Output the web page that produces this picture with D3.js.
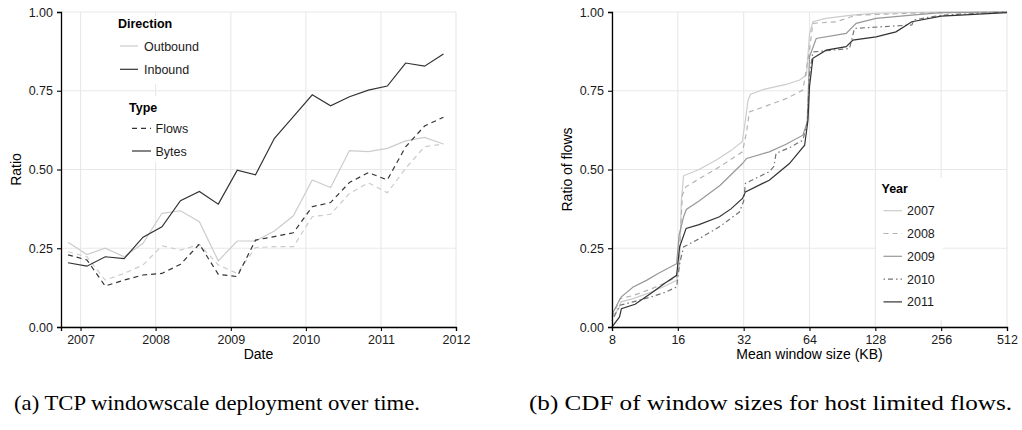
<!DOCTYPE html>
<html>
<head>
<meta charset="utf-8">
<script src="https://cdn.jsdelivr.net/npm/d3@7"></script>
<style>
  html, body { margin: 0; padding: 0; background: #fff; }
  svg { display: block; }
  text { font-family: "Liberation Sans", Arial, Helvetica, sans-serif; }
  text.caption { font-family: "Liberation Serif", "Times New Roman", serif; }
</style>
</head>
<body>
<svg id="chart" width="1022" height="430"></svg>
<script>
// ---------- Data: panel (a) ----------
const dates = ["2006-11","2007-02","2007-05","2007-08","2007-11","2008-02","2008-05","2008-08","2008-11",
               "2009-02","2009-05","2009-08","2009-11","2010-02","2010-05","2010-08","2010-11",
               "2011-02","2011-05","2011-08","2011-11"];
const inboundBytes  = [0.204,0.193,0.223,0.217,0.285,0.318,0.401,0.430,0.390,0.498,0.483,0.599,0.668,0.737,0.702,0.731,0.752,0.765,0.838,0.828,0.867];
const outboundBytes = [0.269,0.230,0.250,0.223,0.266,0.361,0.369,0.334,0.210,0.273,0.273,0.305,0.353,0.467,0.443,0.560,0.557,0.567,0.591,0.602,0.581];
const inboundFlows  = [0.229,0.213,0.130,0.149,0.165,0.170,0.199,0.263,0.167,0.160,0.276,0.287,0.299,0.382,0.395,0.459,0.490,0.467,0.572,0.638,0.666];
const outboundFlows = [0.239,0.223,0.149,0.170,0.197,0.258,0.244,0.262,0.197,0.170,0.252,0.255,0.255,0.350,0.358,0.424,0.458,0.426,0.504,0.572,0.581];
const yearTicksA = [2007, 2008, 2009, 2010, 2011, 2012];
const ratioTicks = [0, 0.25, 0.5, 0.75, 1];
const directions = ["Outbound", "Inbound"];
const types = ["Flows", "Bytes"];

// ---------- Data: panel (b) (window size KB, cumulative ratio) ----------
const years = ["2007", "2008", "2009", "2010", "2011"];
const cdf2007 = [[8,0.03],[8.6,0.06],[8.8,0.08],[10,0.09],[12,0.11],[14,0.13],[15.8,0.148],[16.3,0.2],[16.6,0.4],[17.0,0.48],[20,0.5],[24,0.53],[28,0.56],[31.5,0.588],[32.5,0.65],[33.5,0.72],[34.4,0.739],[40,0.755],[50,0.77],[57.7,0.784],[62,0.80],[64,0.93],[66.3,0.969],[76,0.98],[100,0.99],[129,0.996],[256,1.0],[512,1.0]];
const cdf2008 = [[8,0.03],[8.7,0.09],[10,0.1],[12,0.12],[14,0.14],[15.8,0.159],[16.3,0.25],[16.8,0.42],[17.4,0.445],[20,0.47],[25,0.51],[31.6,0.556],[33,0.62],[34,0.683],[40,0.70],[50,0.725],[59.7,0.752],[64,0.879],[66.3,0.964],[84.8,0.969],[104.6,0.99],[188,0.996],[512,1.0]];
const cdf2009 = [[8,0.04],[8.8,0.095],[10,0.127],[11.5,0.148],[13,0.17],[15.8,0.201],[16.2,0.29],[17,0.35],[17.5,0.373],[20,0.40],[25,0.45],[31.6,0.519],[33,0.535],[41.9,0.556],[50,0.58],[59.7,0.609],[62.5,0.65],[64,0.858],[68.7,0.916],[94.2,0.932],[104.6,0.964],[129,0.98],[188,0.99],[256,0.998],[512,1.0]];
const cdf2010 = [[8,0.02],[8.7,0.069],[10,0.08],[12,0.095],[14,0.11],[15.8,0.127],[16.3,0.2],[17.0,0.254],[20,0.28],[25,0.32],[30.6,0.365],[32,0.40],[32.6,0.456],[41.9,0.493],[44,0.51],[45,0.551],[52,0.57],[59.7,0.593],[62.5,0.65],[64,0.80],[66.3,0.873],[97.5,0.884],[102.8,0.948],[188,0.959],[192.5,0.975],[256,0.99],[512,1.0]];
const cdf2011 = [[8,0.0],[8.2,0.01],[8.66,0.032],[8.83,0.058],[10.2,0.072],[12.3,0.111],[14,0.14],[15.8,0.164],[16.3,0.254],[17.46,0.313],[20,0.325],[24.8,0.35],[28,0.375],[31.6,0.408],[32.6,0.429],[41.9,0.466],[51.8,0.519],[60.8,0.577],[63,0.657],[64,0.763],[66.3,0.853],[76.3,0.879],[94.2,0.89],[101,0.911],[129,0.921],[159,0.937],[188,0.969],[256,0.987],[512,0.998]];
const windowTicks = [8, 16, 32, 64, 128, 256, 512];

const captionA = "(a) TCP windowscale deployment over time.";
const captionB = "(b) CDF of window sizes for host limited flows.";

// ---------- Styles ----------
const dirColor = { Outbound: "#cccccc", Inbound: "#333333" };
const typeDash = { Flows: "5,4", Bytes: null };
const yearColor = { "2007": "#cccccc", "2008": "#b4b4b4", "2009": "#989898", "2010": "#747474", "2011": "#333333" };
const yearDash = { "2007": null, "2008": "5,4", "2009": null, "2010": "1.5,3,5,3", "2011": null };
const gridColor = "#e8e8e8";

const svg = d3.select("#chart");
svg.append("rect").attr("width", 1022).attr("height", 430).attr("fill", "#fff");

const parse = d3.timeParse("%Y-%m");
const yTop = 12, yBot = 327;

function drawGrid(g, x, y, xTickVals, left, right) {
  g.append("g").selectAll("line").data(xTickVals).join("line")
    .attr("x1", d => x(d)).attr("x2", d => x(d)).attr("y1", yTop).attr("y2", yBot)
    .attr("stroke", gridColor).attr("stroke-width", 1.1);
  g.append("g").selectAll("line").data(ratioTicks).join("line")
    .attr("x1", left).attr("x2", right).attr("y1", d => y(d)).attr("y2", d => y(d))
    .attr("stroke", gridColor).attr("stroke-width", 1.1);
}

function styleAxis(ax) {
  ax.select(".domain").attr("stroke", "#000").attr("stroke-width", 1.3);
  ax.selectAll(".tick line").attr("stroke", "#000").attr("stroke-width", 1.1);
  ax.selectAll(".tick text").attr("fill", "#1a1a1a").attr("font-size", 12.5);
}

// ================= Panel (a) =================
{
  const left = 61, right = 456;
  const x = d3.scaleTime().domain([new Date(2006, 8, 28), new Date(2012, 0, 1)]).range([left, right]);
  const y = d3.scaleLinear().domain([0, 1]).range([yBot, yTop]);
  const g = svg.append("g");
  const xYears = yearTicksA.map(v => new Date(v, 0, 1));
  drawGrid(g, x, y, xYears, left, right);

  const series = [
    { dir: "Outbound", type: "Bytes", vals: outboundBytes },
    { dir: "Outbound", type: "Flows", vals: outboundFlows },
    { dir: "Inbound", type: "Flows", vals: inboundFlows },
    { dir: "Inbound", type: "Bytes", vals: inboundBytes }
  ];
  const line = d3.line().x((d, i) => x(parse(dates[i]))).y(d => y(d));
  g.append("g").selectAll("path").data(series).join("path")
    .attr("d", s => line(s.vals))
    .attr("fill", "none")
    .attr("stroke", s => dirColor[s.dir])
    .attr("stroke-width", 1.2)
    .attr("stroke-dasharray", s => typeDash[s.type]);

  const ax = g.append("g").attr("transform", `translate(0,${yBot})`)
    .call(d3.axisBottom(x).tickValues(xYears).tickFormat(d3.timeFormat("%Y")).tickSize(4).tickPadding(4));
  styleAxis(ax);
  const ay = g.append("g").attr("transform", `translate(${left},0)`)
    .call(d3.axisLeft(y).tickValues(ratioTicks).tickFormat(d3.format(".2f")).tickSize(4).tickPadding(4));
  styleAxis(ay);

  g.append("text").attr("x", (left + right) / 2).attr("y", 359).attr("text-anchor", "middle")
    .attr("font-size", 14).attr("fill", "#000").text("Date");
  g.append("text").attr("transform", `translate(21,${(yTop + yBot) / 2}) rotate(-90)`)
    .attr("text-anchor", "middle").attr("font-size", 14).attr("fill", "#000").text("Ratio");

  // Legend: Direction
  const lg1 = g.append("g");
  lg1.append("rect").attr("x", 113).attr("y", 16).attr("width", 96).attr("height", 68).attr("fill", "#fff");
  lg1.append("text").attr("x", 118).attr("y", 28).attr("font-size", 12.5).attr("font-weight", "bold").text("Direction");
  directions.forEach((d, i) => {
    const yy = 46 + i * 23.3;
    lg1.append("line").attr("x1", 120).attr("x2", 138).attr("y1", yy).attr("y2", yy)
      .attr("stroke", dirColor[d]).attr("stroke-width", 1.2);
    lg1.append("text").attr("x", 144).attr("y", yy + 4.5).attr("font-size", 12.5).attr("fill", "#1a1a1a").text(d);
  });
  // Legend: Type
  const lg2 = g.append("g");
  lg2.append("rect").attr("x", 124).attr("y", 96).attr("width", 72).attr("height", 66).attr("fill", "#fff");
  lg2.append("text").attr("x", 129).attr("y", 112).attr("font-size", 12.5).attr("font-weight", "bold").text("Type");
  types.forEach((t, i) => {
    const yy = 128.3 + i * 22.7;
    lg2.append("line").attr("x1", 132).attr("x2", 151).attr("y1", yy).attr("y2", yy)
      .attr("stroke", "#333333").attr("stroke-width", 1.2).attr("stroke-dasharray", typeDash[t]);
    lg2.append("text").attr("x", 155.5).attr("y", yy + 4.5).attr("font-size", 12.5).attr("fill", "#1a1a1a").text(t);
  });
}

// ================= Panel (b) =================
{
  const left = 612, right = 1007;
  const x = d3.scaleLog().base(2).domain([8, 512]).range([left, right]);
  const y = d3.scaleLinear().domain([0, 1]).range([yBot, yTop]);
  const g = svg.append("g");
  drawGrid(g, x, y, windowTicks, left, right);

  const cdfs = { "2007": cdf2007, "2008": cdf2008, "2009": cdf2009, "2010": cdf2010, "2011": cdf2011 };
  const line = d3.line().x(d => x(d[0])).y(d => y(d[1]));
  g.append("g").selectAll("path").data(years).join("path")
    .attr("d", yr => line(cdfs[yr]))
    .attr("fill", "none")
    .attr("stroke", yr => yearColor[yr])
    .attr("stroke-width", 1.2)
    .attr("stroke-dasharray", yr => yearDash[yr]);

  const ax = g.append("g").attr("transform", `translate(0,${yBot})`)
    .call(d3.axisBottom(x).tickValues(windowTicks).tickFormat(d3.format("d")).tickSize(4).tickPadding(4));
  styleAxis(ax);
  const ay = g.append("g").attr("transform", `translate(${left},0)`)
    .call(d3.axisLeft(y).tickValues(ratioTicks).tickFormat(d3.format(".2f")).tickSize(4).tickPadding(4));
  styleAxis(ay);

  g.append("text").attr("x", (left + right) / 2).attr("y", 359).attr("text-anchor", "middle")
    .attr("font-size", 14).attr("fill", "#000").text("Mean window size (KB)");
  g.append("text").attr("transform", `translate(572,${(yTop + yBot) / 2}) rotate(-90)`)
    .attr("text-anchor", "middle").attr("font-size", 14).attr("fill", "#000").text("Ratio of flows");

  const lg = g.append("g");
  lg.append("rect").attr("x", 876).attr("y", 178).attr("width", 67).attr("height", 142).attr("fill", "#fff");
  lg.append("text").attr("x", 881.5).attr("y", 193).attr("font-size", 12.5).attr("font-weight", "bold").text("Year");
  years.forEach((yr, i) => {
    const yy = 210.7 + i * 22.8;
    lg.append("line").attr("x1", 883.5).attr("x2", 902).attr("y1", yy).attr("y2", yy)
      .attr("stroke", yearColor[yr]).attr("stroke-width", 1.2).attr("stroke-dasharray", yearDash[yr]);
    lg.append("text").attr("x", 907).attr("y", yy + 4.5).attr("font-size", 12.5).attr("fill", "#1a1a1a").text(yr);
  });
}

// ================= Captions =================
svg.append("text").attr("class", "caption").attr("x", 14).attr("y", 410)
  .attr("font-size", 21).attr("fill", "#000")
  .attr("textLength", 406).attr("lengthAdjust", "spacingAndGlyphs").text(captionA);
svg.append("text").attr("class", "caption").attr("x", 529).attr("y", 410)
  .attr("font-size", 21).attr("fill", "#000")
  .attr("textLength", 483).attr("lengthAdjust", "spacingAndGlyphs").text(captionB);
</script>
</body>
</html>
